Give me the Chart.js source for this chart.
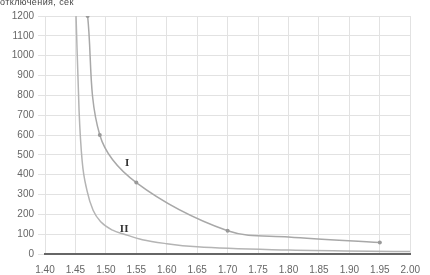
<!DOCTYPE html>
<html>
<head>
<meta charset="utf-8">
<script src="https://cdn.jsdelivr.net/npm/chart.js@4"></script>
<style>
	body { margin: 0; background: #fff; }
	#wrap { position: relative; width: 430px; height: 275px; }
	#ylabel { position: absolute; left: 0; top: -3px; font: 9px "Liberation Sans", sans-serif; letter-spacing: 0.4px; color: #444; }
</style>
</head>
<body>
<div id="wrap">
	<div id="ylabel">отключения, сек</div>
	<canvas id="main-chart" width="430" height="275"></canvas>
</div>
<script>
var curveI_x = [1.47, 1.49, 1.55, 1.70, 1.80, 1.95];
var curveI_y = [1200, 600, 360, 117, 86, 58];
var curveI_marked = [1, 1, 1, 1, 0, 1];
// curve II
var curveII_x = [1.451, 1.456, 1.461, 1.469, 1.479, 1.492, 1.511, 1.53, 1.56, 1.60, 1.65, 1.80, 2.00];
var curveII_y = [1200, 720, 470, 320, 221, 161, 120, 100, 72, 52, 36, 20, 12];
// curve labels
var labelText = ['I', 'II'];
var labelX = [1.535, 1.53];
var labelY = [457, 126];

var xMin = 1.40, xMax = 2.00, xStep = 0.05;
var yMin = 0, yMax = 1200, yStep = 100;

function pts(xs, ys) {
	return xs.map(function (x, i) { return { x: x, y: ys[i] }; });
}

var tickFont = { family: '"Liberation Sans Narrow", "Liberation Sans", sans-serif', size: 10 };

var curveLabels = {
	id: 'curveLabels',
	afterDatasetsDraw: function (chart) {
		var ctx = chart.ctx;
		var sx = chart.scales.x, sy = chart.scales.y;
		ctx.save();
		ctx.font = 'bold 11px "Liberation Serif", serif';
		ctx.fillStyle = '#333';
		ctx.textAlign = 'center';
		ctx.textBaseline = 'middle';
		labelText.forEach(function (t, i) {
			ctx.fillText(t, sx.getPixelForValue(labelX[i]), sy.getPixelForValue(labelY[i]));
		});
		ctx.restore();
	}
};

var ctx = document.getElementById('main-chart');
new Chart(ctx, {
	type: 'line',
	data: {
		datasets: [
			{
				data: pts(curveI_x, curveI_y),
				borderColor: '#a8a8a8',
				backgroundColor: '#999',
				borderWidth: 1.5,
				pointRadius: curveI_marked.map(function (m) { return m ? 2 : 0; }),
				pointBorderWidth: 0,
				tension: 0.35
			},
			{
				data: pts(curveII_x, curveII_y),
				borderColor: '#b4b4b4',
				borderWidth: 1.5,
				pointRadius: 0,
				cubicInterpolationMode: 'monotone'
			}
		]
	},
	options: {
		responsive: false,
		animation: false,
		layout: { padding: { top: 16, right: -3, bottom: -11 } },
		plugins: { legend: { display: false }, tooltip: { enabled: false } },
		scales: {
			x: {
				type: 'linear',
				min: xMin, max: xMax,
				ticks: {
					stepSize: xStep,
					color: '#666',
					font: tickFont,
					padding: 10,
					callback: function (v) { return v.toFixed(2); },
					maxRotation: 0
				},
				grid: { color: '#e2e2e2', drawTicks: false },
				border: { color: '#666', width: 2 }
			},
			y: {
				min: yMin, max: yMax,
				afterFit: function (scale) { scale.width = 45; },
				ticks: {
					stepSize: yStep,
					color: '#666',
					font: tickFont,
					padding: 4,
					callback: function (v) { return String(v); }
				},
				grid: { color: '#e2e2e2', tickLength: 7 },
				border: { display: false }
			}
		}
	},
	plugins: [curveLabels]
});
</script>
</body>
</html>
